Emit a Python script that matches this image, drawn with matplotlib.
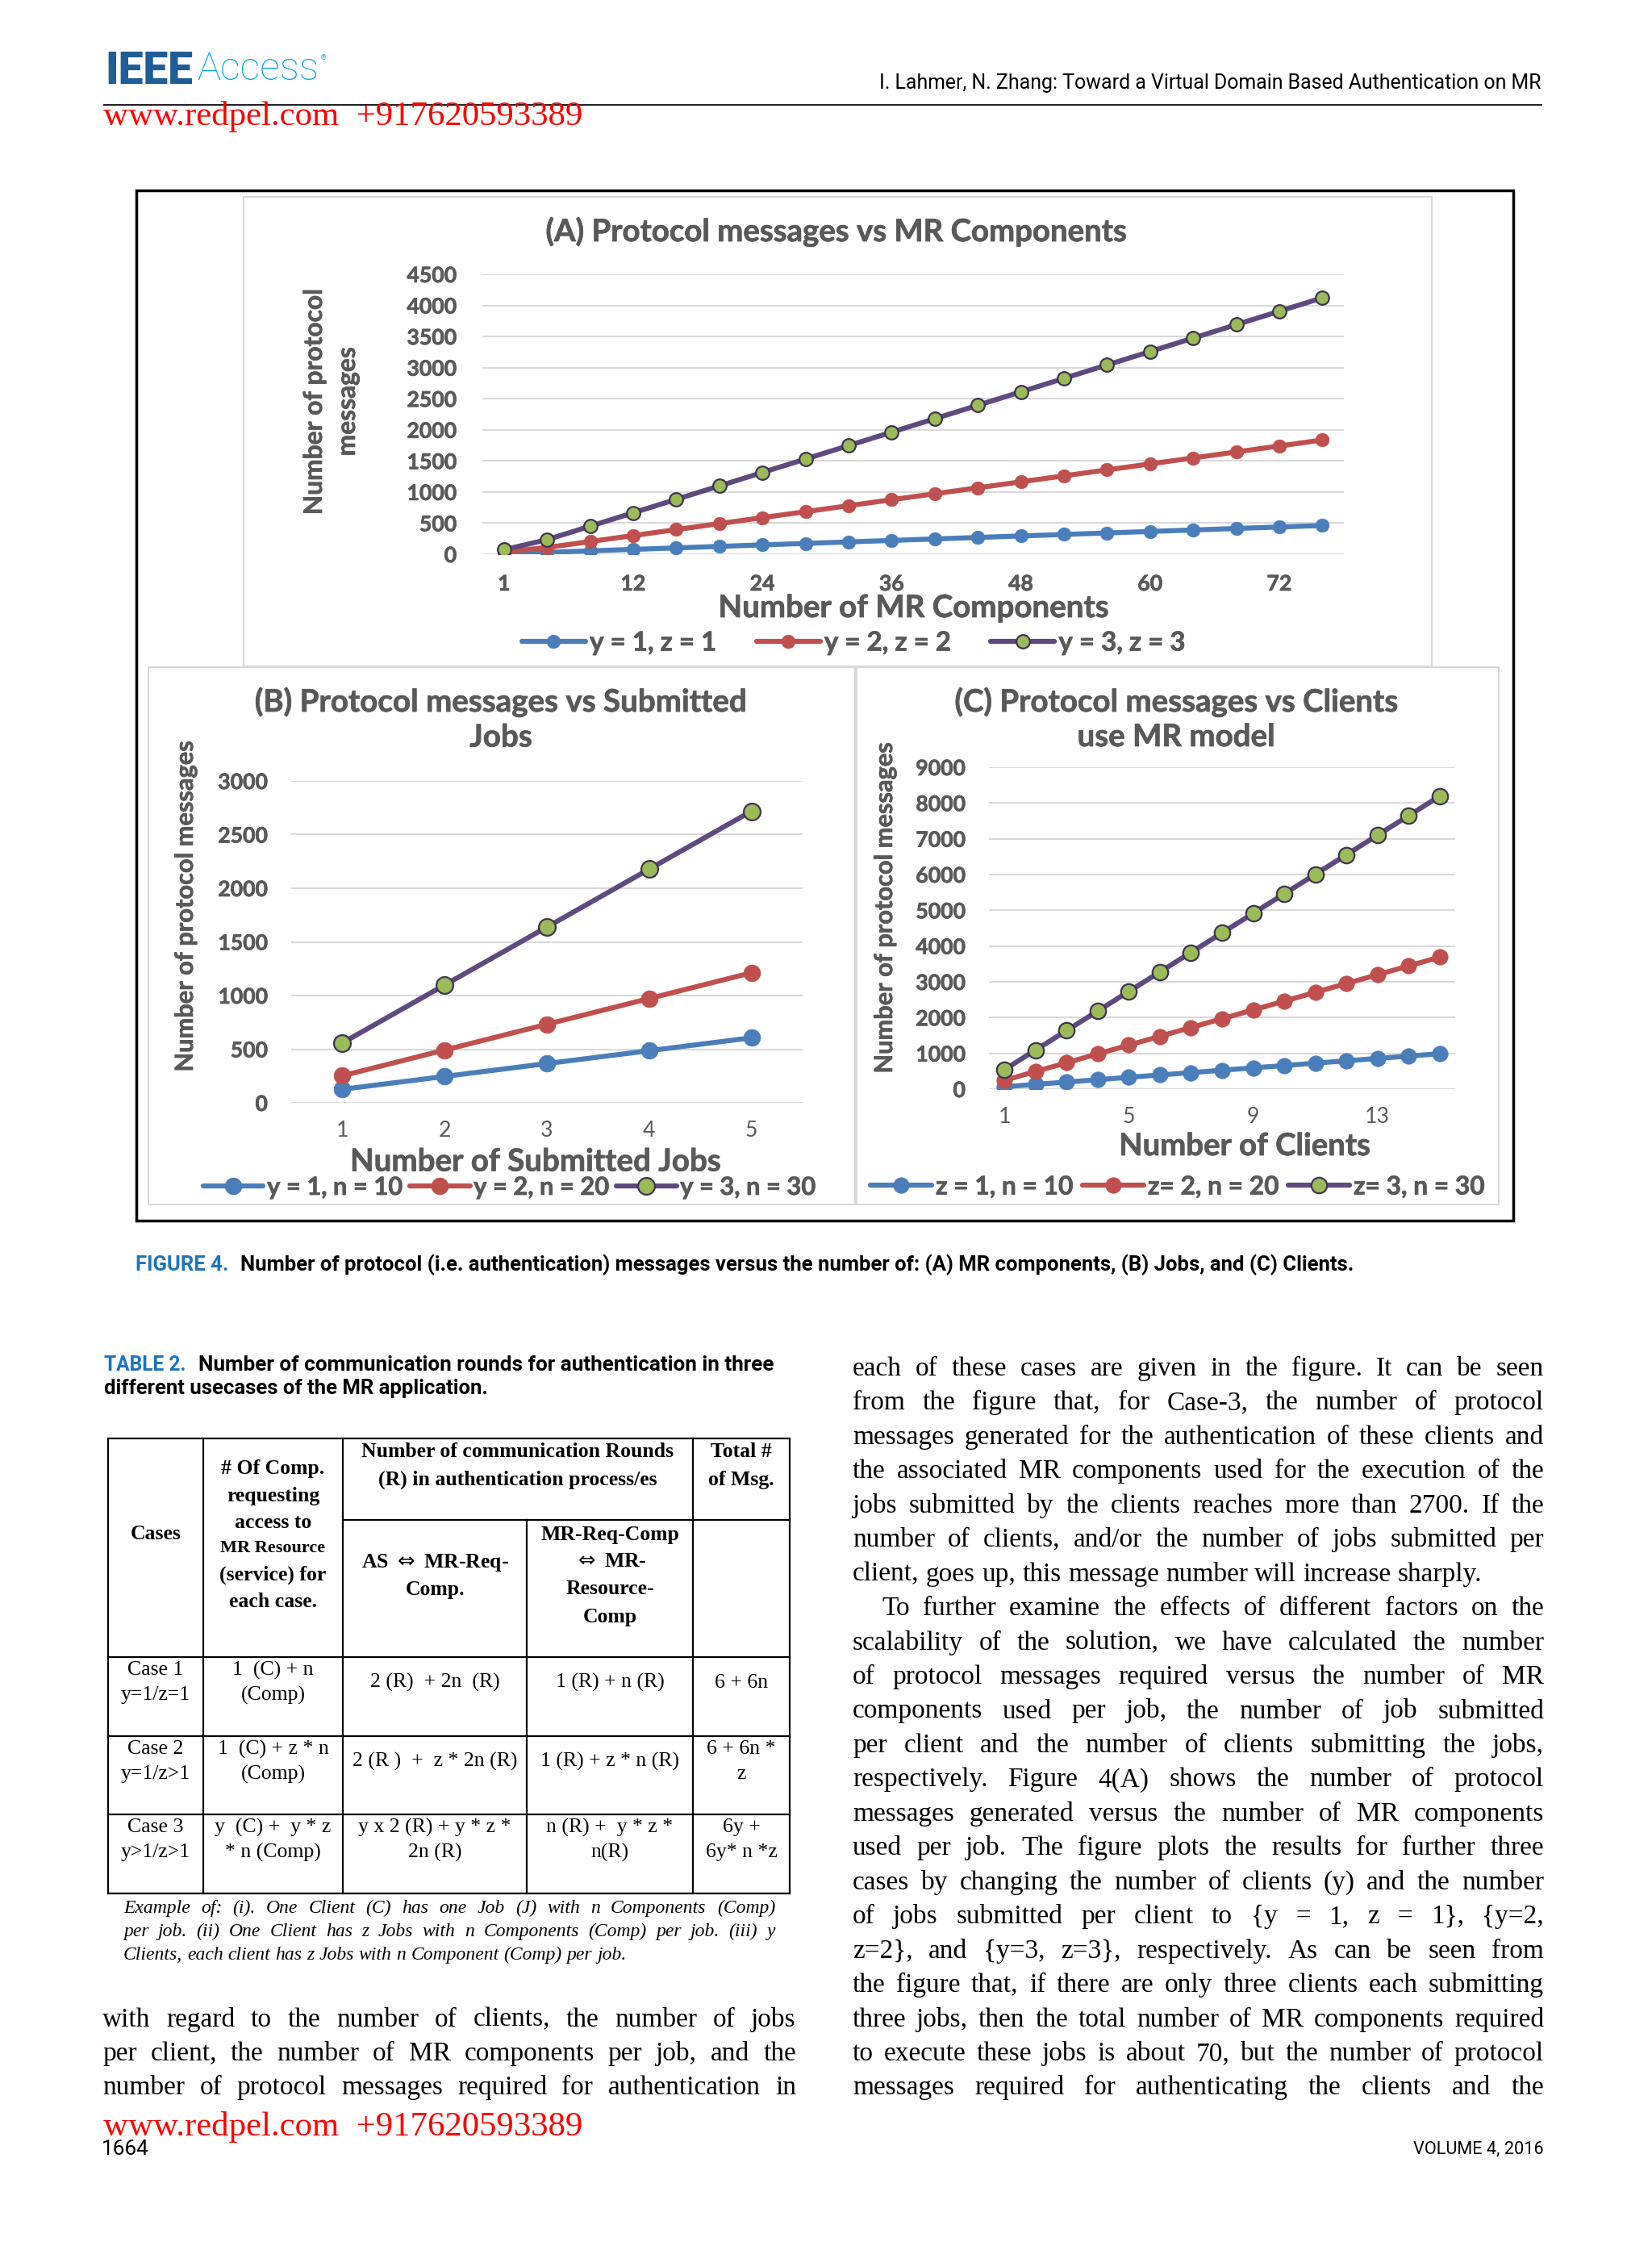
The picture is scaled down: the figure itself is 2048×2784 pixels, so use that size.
import matplotlib
matplotlib.use("Agg")
import matplotlib.pyplot as plt
from matplotlib import font_manager
from matplotlib import patheffects
from matplotlib.patches import Rectangle

W, H = 2048, 2784

# ---------------- data ----------------
# (A) messages vs MR components
mr_components = [1, 4, 8, 12, 16, 20, 24, 28, 32, 36, 40, 44, 48, 52, 56, 60, 64, 68, 72, 76]
a_y1z1 = [12, 30, 54, 78, 102, 126, 150, 174, 198, 222, 246, 270, 294, 318, 342, 366, 390, 414, 438, 462]
a_y2z2 = [36, 108, 204, 300, 396, 492, 588, 684, 780, 876, 972, 1068, 1164, 1260, 1356, 1452, 1548, 1644, 1740, 1836]
a_y3z3 = [72, 234, 450, 666, 882, 1098, 1314, 1530, 1746, 1962, 2178, 2394, 2610, 2826, 3042, 3258, 3474, 3690, 3906, 4122]
a_labels = ["y = 1, z = 1", "y = 2, z = 2", "y = 3, z = 3"]

# (B) messages vs submitted jobs
jobs = [1, 2, 3, 4, 5]
b_y1 = [126, 246, 366, 486, 606]
b_y2 = [252, 492, 732, 972, 1212]
b_y3 = [558, 1098, 1638, 2178, 2718]
b_labels = ["y = 1, n = 10", "y = 2, n = 20", "y = 3, n = 30"]

# (C) messages vs clients
clients = [1, 2, 3, 4, 5, 6, 7, 8, 9, 10, 11, 12, 13, 14, 15]
c_z1 = [66, 132, 198, 264, 330, 396, 462, 528, 594, 660, 726, 792, 858, 924, 990]
c_z2 = [246, 492, 738, 984, 1230, 1476, 1722, 1968, 2214, 2460, 2706, 2952, 3198, 3444, 3690]
c_z3 = [546, 1092, 1638, 2184, 2730, 3276, 3822, 4368, 4914, 5460, 6006, 6552, 7098, 7644, 8190]
c_labels = ["z = 1, n = 10", "z= 2, n = 20", "z= 3, n = 30"]

# table 2
table_rows = [
    (["Case 1", "y=1/z=1"], ["1  (C) + n", "(Comp)"], ["2 (R)  + 2n  (R)"], ["1 (R) + n (R)"], ["6 + 6n"]),
    (["Case 2", "y=1/z>1"], ["1  (C) + z * n", "(Comp)"], ["2 (R )  +  z * 2n (R)"], ["1 (R) + z * n (R)"], ["6 + 6n *", "z"]),
    (["Case 3", "y>1/z>1"], ["y  (C) +  y * z", "* n (Comp)"], ["y x 2 (R) + y * z *", "2n (R)"], ["n (R) +  y * z *", "n(R)"], ["6y +", "6y* n *z"]),
]
table_note = [
    "Example of: (i). One Client (C) has one Job (J) with n Components (Comp)",
    "per job. (ii) One Client has z Jobs with n Components (Comp) per job. (iii) y",
    "Clients, each client has z Jobs with n Component (Comp) per job.",
]

left_text = [
    "with regard to the number of clients, the number of jobs",
    "per client, the number of MR components per job, and the",
    "number of protocol messages required for authentication in",
]
right_text = [
    "each of these cases are given in the figure. It can be seen",
    "from the figure that, for Case-3, the number of protocol",
    "messages generated for the authentication of these clients and",
    "the associated MR components used for the execution of the",
    "jobs submitted by the clients reaches more than 2700. If the",
    "number of clients, and/or the number of jobs submitted per",
    "client, goes up, this message number will increase sharply.",
    "To further examine the effects of different factors on the",
    "scalability of the solution, we have calculated the number",
    "of protocol messages required versus the number of MR",
    "components used per job, the number of job submitted",
    "per client and the number of clients submitting the jobs,",
    "respectively. Figure 4(A) shows the number of protocol",
    "messages generated versus the number of MR components",
    "used per job. The figure plots the results for further three",
    "cases by changing the number of clients (y) and the number",
    "of jobs submitted per client to {y = 1, z = 1}, {y=2,",
    "z=2}, and {y=3, z=3}, respectively. As can be seen from",
    "the figure that, if there are only three clients each submitting",
    "three jobs, then the total number of MR components required",
    "to execute these jobs is about 70, but the number of protocol",
    "messages required for authenticating the clients and the",
]

# ---------------- fonts / colours ----------------
names = {f.name for f in font_manager.fontManager.ttflist}
CHART = "Lato" if "Lato" in names else "DejaVu Sans"
NARROW = "Liberation Sans Narrow" if "Liberation Sans Narrow" in names else "Roboto"
SERIF = ["Liberation Serif", "DejaVu Serif"]
GREY = "#595959"
BLUE, RED, PURPLE, GREEN = "#4A7EBB", "#C0504D", "#5F4A80", "#9BBB59"
IEEE_BLUE = "#1B75BB"
BOLDER = [patheffects.withStroke(linewidth=0.5, foreground=GREY)]

fig = plt.figure(figsize=(W / 100, H / 100), dpi=100)
page = fig.add_axes([0, 0, 1, 1])
page.set_xlim(0, W)
page.set_ylim(H, 0)
page.axis("off")
renderer = fig.canvas.get_renderer()


def rect(x0, y0, x1, y1):
    return [x0 / W, 1 - y1 / H, (x1 - x0) / W, (y1 - y0) / H]


def size_for(s, width, **kw):
    t = page.text(0, 0, s, fontsize=20, **kw)
    w = t.get_window_extent(renderer).width
    t.remove()
    return 20 * width / w


def fit(x0, x1, y, s, size, ha="left", **kw):
    t = page.text(x0 if ha == "left" else x1, y, s, fontsize=size, ha=ha, va="center", **kw)
    w = t.get_window_extent(renderer).width
    t.set_fontsize(size * (x1 - x0) / w)
    return t


def justify(x0, x1, y, line, size, family, style="normal", stretch=True, indent=0):
    words = line.split(" ")
    ts = [page.text(0, y, w, fontsize=size, family=family, style=style, va="baseline") for w in words]
    ws = [t.get_window_extent(renderer).width for t in ts]
    if stretch and len(words) > 1:
        gap = (x1 - x0 - indent - sum(ws)) / (len(words) - 1)
    else:
        gap = size * 100 / 72 * 0.25
    x = x0 + indent
    for t, w in zip(ts, ws):
        t.set_x(x)
        x += w + gap


# ---------------- page header ----------------
fit(130, 239, 88, "IEEE", 40, family=NARROW, weight="heavy", color="#1F5D99")
fit(244, 395, 86, "Access", 40, family="Roboto", weight="light", color="#00A3E0")
page.text(397, 72, "®", fontsize=6, color="#00A3E0", va="center")
fit(1089, 1911, 103, "I. Lahmer, N. Zhang: Toward a Virtual Domain Based Authentication on MR", 17,
    ha="right", family=NARROW)
page.plot([129, 1911], [130, 130], color="#222222", lw=1.5)
fit(128, 722, 145, "www.redpel.com  +917620593389", 31, family=SERIF, color="#FF0000")

# ---------------- figure frame ----------------
page.add_patch(Rectangle((169, 236), 1876 - 169, 1513 - 236, fill=False, ec="black", lw=2.5))
for (x0, y0, x1, y1) in [(302, 244, 1775, 826), (184, 827, 1060, 1493), (1062, 827, 1858, 1493)]:
    page.add_patch(Rectangle((x0, y0), x1 - x0, y1 - y0, fill=False, ec="#D9D9D9", lw=1.5))

bold = dict(family=CHART, weight="bold")
TICK = size_for("4500", 62, **bold)
LEG = size_for("y = 1, z = 1", 157, **bold)


def chart(box, cats, series, labels, ymax, ystep, every, ms, xbold, ypad, xpad):
    ax = fig.add_axes(rect(*box))
    ax.patch.set_alpha(0)
    idx = list(range(len(cats)))
    styles = [(BLUE, BLUE, BLUE), (RED, RED, RED), (PURPLE, GREEN, "#3F3350")]
    for vals, lab, (c, fc, ec) in zip(series, labels, styles):
        ax.plot(idx, vals, color=c, lw=4.5, marker="o", ms=ms, mfc=fc, mec=ec,
                mew=1.6 if fc == GREEN else 0.5, label=lab, solid_capstyle="round")
    ax.set_xlim(-0.5, len(cats) - 0.5)
    ax.set_ylim(0, ymax)
    ax.set_yticks(range(0, ymax + 1, ystep))
    ax.set_xticks(idx[::every])
    ax.set_xticklabels([str(c) for c in cats[::every]])
    ax.grid(axis="y", color="#D9D9D9", lw=1.5)
    ax.set_axisbelow(True)
    for s in ax.spines.values():
        s.set_visible(False)
    ax.tick_params(length=0, colors=GREY, labelsize=TICK)
    ax.tick_params(axis="y", pad=ypad)
    ax.tick_params(axis="x", pad=xpad)
    for t in ax.get_yticklabels():
        t.set_family(CHART)
        t.set_weight("bold")
        t.set_path_effects(BOLDER)
    for t in ax.get_xticklabels():
        t.set_family(CHART)
        t.set_weight("bold" if xbold else "normal")
        if xbold:
            t.set_path_effects(BOLDER)
    return ax


def legend(ax, cx, cy, colsp, size):
    lg = ax.legend(loc="center", bbox_to_anchor=(cx, cy), bbox_transform=page.transData, ncol=3,
                   frameon=False, handlelength=2.4, handletextpad=0.15, columnspacing=colsp,
                   numpoints=1, prop=dict(family=CHART, weight="bold", size=size), labelcolor=GREY,
                   borderpad=0, borderaxespad=0)
    for t in lg.get_texts():
        t.set_path_effects(BOLDER)


def label(x, y, s, width, rotation=0, measure=None, **kw):
    size = size_for(measure or s, width, **bold)
    page.text(x, y, s, fontsize=size, rotation=rotation, color=GREY, ha="center", va="center",
              path_effects=BOLDER, **bold, **kw)
    return size


# (A)
axA = chart((598, 340, 1666, 687), mr_components, [a_y1z1, a_y2z2, a_y3z3], a_labels,
            4500, 500, 3, 12, True, 23, 18)
label(1037, 287, "(A) Protocol messages vs MR Components", 720)
label(410, 498, "Number of protocol\nmessages", 280, rotation=90, measure="Number of protocol",
      linespacing=1.5)
label(1133, 754, "Number of MR Components", 484)
legend(axA, 1058, 797, 1.5, LEG)

# (B)
axB = chart((361, 968, 995, 1367), jobs, [b_y1, b_y2, b_y3], b_labels,
            3000, 500, 1, 15, False, 21, 16)
sb = label(621, 870, "(B) Protocol messages vs Submitted", 610)
page.text(621, 914, "Jobs", fontsize=sb, color=GREY, ha="center", va="center", path_effects=BOLDER, **bold)
label(230, 1124, "Number of protocol messages", 410, rotation=90)
label(664, 1440, "Number of Submitted Jobs", 460)
legend(axB, 632, 1472, 0.3, LEG * 0.935)

# (C)
axC = chart((1226, 951, 1804, 1350), clients, [c_z1, c_z2, c_z3], c_labels,
            9000, 1000, 4, 14, False, 21, 16)
sc = label(1458, 870, "(C) Protocol messages vs Clients", 550)
page.text(1458, 914, "use MR model", fontsize=sc, color=GREY, ha="center", va="center",
          path_effects=BOLDER, **bold)
label(1097, 1126, "Number of protocol messages", 410, rotation=90)
label(1543, 1421, "Number of Clients", 312)
legend(axC, 1460, 1471, 0.35, LEG * 0.96)

# ---------------- captions ----------------
fit(168, 283, 1568, "FIGURE 4.", 18, family=NARROW, weight="bold", color=IEEE_BLUE)
fit(298, 1675, 1568, "Number of protocol (i.e. authentication) messages versus the number of: "
    "(A) MR components, (B) Jobs, and (C) Clients.", 18, family=NARROW, weight="bold")
fit(129, 231, 1692, "TABLE 2.", 18, family=NARROW, weight="bold", color=IEEE_BLUE)
fit(246, 961, 1692, "Number of communication rounds for authentication in three", 18,
    family=NARROW, weight="bold")
fit(129, 606, 1721, "different usecases of the MR application.", 18, family=NARROW, weight="bold")

# ---------------- table ----------------
cols = [134, 252, 425, 653, 859, 979]
rows = [1783, 2054, 2152, 2249, 2347]
lk = dict(color="black", lw=1.6, solid_capstyle="projecting")
for y in rows:
    page.plot([cols[0], cols[-1]], [y, y], **lk)
page.plot([cols[2], cols[-1]], [1884, 1884], **lk)
for i, x in enumerate(cols):
    page.plot([x, x], [1884 if i == 3 else rows[0], rows[-1]], **lk)

centres = [(a + b) / 2 for a, b in zip(cols[:-1], cols[1:])]
hd = dict(family=SERIF, weight="bold", ha="center", va="center")
page.text(centres[0], 1902, "Cases", fontsize=18.5, **hd)
for y, s in zip([1820, 1854, 1888, 1919, 1952, 1985],
                ["# Of Comp.", "requesting", "access to", "MR Resource", "(service) for", "each case."]):
    page.text(centres[1], y, s, fontsize=16 if s == "MR Resource" else 18.5, **hd)
for y, s in zip([1800, 1834], ["Number of communication Rounds", "(R) in authentication process/es"]):
    page.text(642, y, s, fontsize=18.5, **hd)
for y, s in zip([1800, 1834], ["Total #", "of Msg."]):
    page.text(centres[4], y, s, fontsize=18.5, **hd)
for y, s in zip([1937, 1970], [r"AS $\Leftrightarrow$ MR-Req-", "Comp."]):
    page.text(centres[2], y, s, fontsize=18.5, **hd)
for y, s in zip([1902, 1936, 1970, 2004], ["MR-Req-Comp", r"$\Leftrightarrow$ MR-", "Resource-", "Comp"]):
    page.text(centres[3], y, s, fontsize=18.5, **hd)

bd = dict(family=SERIF, ha="center", va="center", fontsize=18.5)
for top, row in zip(rows[1:-1], table_rows):
    y1, y2 = top + 16, top + 47
    for cx, cell in zip(centres, row):
        if len(cell) == 1:
            page.text(cx, (y1 + y2) / 2, cell[0], **bd)
        else:
            page.text(cx, y1, cell[0], **bd)
            page.text(cx, y2, cell[1], **bd)

for i, line in enumerate(table_note):
    justify(153, 961, 2371 + 29 * i, line, 17, SERIF, style="italic", stretch=i < 2)

# ---------------- body text ----------------
for i, line in enumerate(right_text):
    justify(1057, 1914, 1705 + 42.45 * i, line, 24, SERIF, stretch=i != 6, indent=36 if i == 7 else 0)
for i, line in enumerate(left_text):
    justify(127, 987, 1705 + 42.45 * (19 + i), line, 24, SERIF)

fit(128, 722, 2636, "www.redpel.com  +917620593389", 31, family=SERIF, color="#FF0000")
fit(126, 185, 2664, "1664", 16, family=NARROW)
fit(1752, 1914, 2664, "VOLUME 4, 2016", 16, family=NARROW)

fig.savefig("out.png", dpi=100)
